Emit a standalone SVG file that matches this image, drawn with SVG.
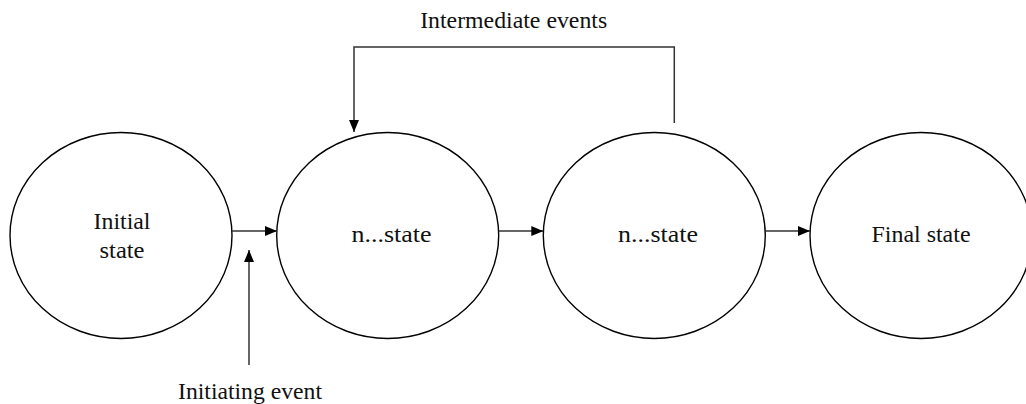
<svg xmlns="http://www.w3.org/2000/svg" width="1026" height="404" viewBox="0 0 1026 404">
  <style>
    .state { fill: #ffffff; stroke: #000000; stroke-width: 1.4; }
    .label { font-family: "Liberation Serif", "DejaVu Serif", "Times New Roman", serif; font-size: 22.5px; fill: #111111; text-anchor: middle; }
    .link { fill: none; stroke: #333333; stroke-width: 1.5; }
  </style>
  <defs>
    <marker id="arrow" markerUnits="userSpaceOnUse" markerWidth="12" markerHeight="10" refX="12" refY="5" orient="auto">
      <path d="M0,0 L12,5 L0,10 z" fill="#000000"/>
    </marker>
  </defs>

  <rect width="1026" height="404" fill="#ffffff"/>

  <g id="initial-state">
    <ellipse class="state" cx="121" cy="235.5" rx="111" ry="103"/>
    <text class="label" x="122" y="229" textLength="57" lengthAdjust="spacingAndGlyphs">Initial</text>
    <text class="label" x="122" y="257.5" textLength="45" lengthAdjust="spacingAndGlyphs">state</text>
  </g>

  <g id="state-n1">
    <ellipse class="state" cx="387.7" cy="235.5" rx="111" ry="103"/>
    <text class="label" x="391.5" y="241.5" textLength="80" lengthAdjust="spacingAndGlyphs">n...state</text>
  </g>

  <g id="state-n2">
    <ellipse class="state" cx="654.3" cy="235.5" rx="111" ry="103"/>
    <text class="label" x="658" y="241.5" textLength="80" lengthAdjust="spacingAndGlyphs">n...state</text>
  </g>

  <g id="final-state">
    <ellipse class="state" cx="921" cy="235.5" rx="111" ry="103"/>
    <text class="label" x="921" y="241.5" textLength="99" lengthAdjust="spacingAndGlyphs">Final state</text>
  </g>

  <g id="connectors">
    <line class="link" x1="232" y1="231" x2="277" y2="231" marker-end="url(#arrow)"/>
    <line class="link" x1="498.7" y1="231" x2="543.3" y2="231" marker-end="url(#arrow)"/>
    <line class="link" x1="765.3" y1="231" x2="810" y2="231" marker-end="url(#arrow)"/>
    <line class="link" x1="249" y1="365" x2="249" y2="250" marker-end="url(#arrow)"/>
    <polyline class="link" points="674.3,123 674.3,47 354,47 354,132" marker-end="url(#arrow)"/>
  </g>

  <g id="event-labels">
    <text class="label" x="513.7" y="28" textLength="187" lengthAdjust="spacingAndGlyphs">Intermediate events</text>
    <text class="label" x="250" y="399" textLength="144" lengthAdjust="spacingAndGlyphs">Initiating event</text>
  </g>
</svg>
